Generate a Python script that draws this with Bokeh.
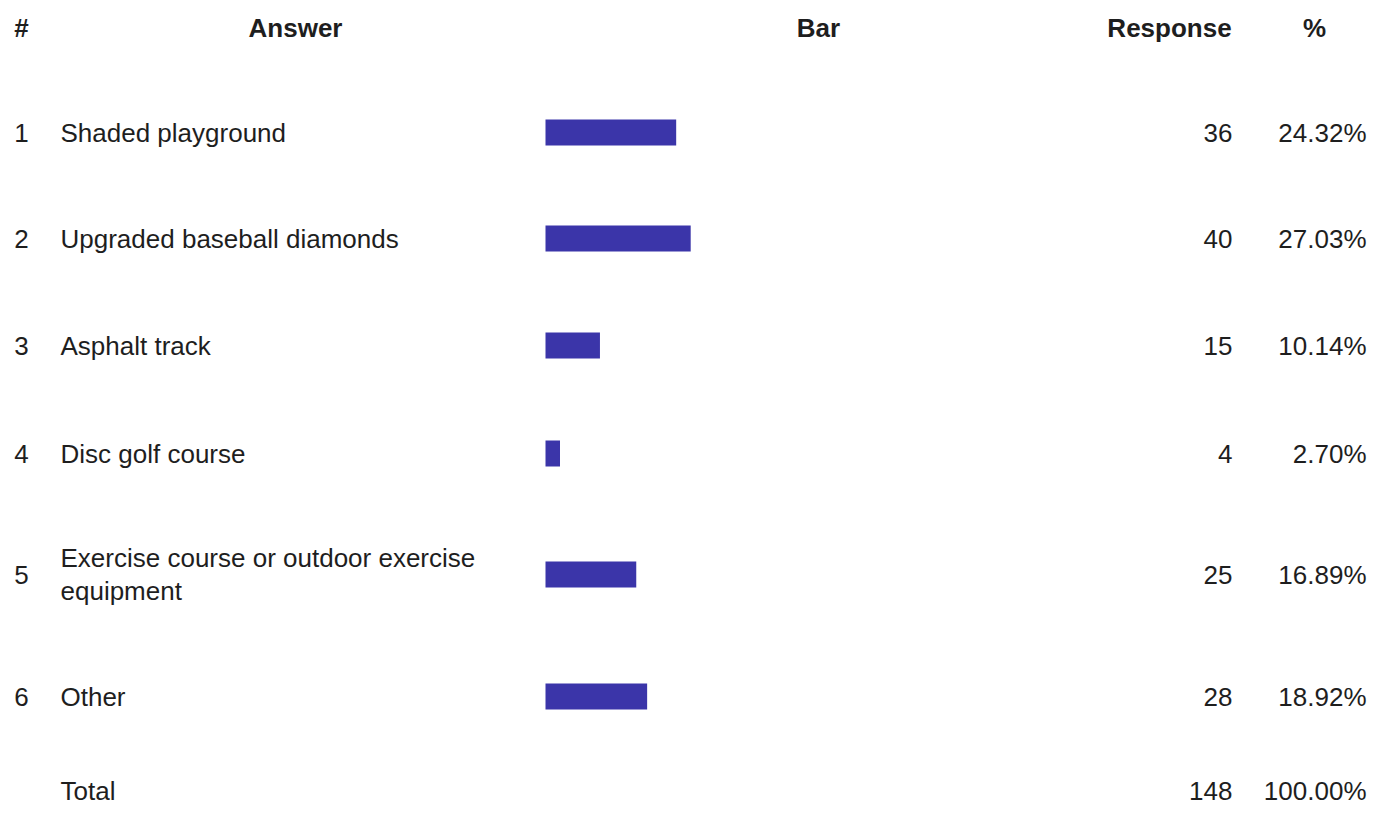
from bokeh.plotting import figure
from bokeh.models import Range1d, ColumnDataSource
from bokeh.core.properties import value
from bokeh.embed import file_html
from bokeh.resources import INLINE

# ---- data ----
numbers = ["1", "2", "3", "4", "5", "6"]
answers = ["Shaded playground", "Upgraded baseball diamonds", "Asphalt track",
           "Disc golf course", "Exercise course or outdoor exercise\nequipment", "Other"]
responses = [36, 40, 15, 4, 25, 28]
percents = ["24.32%", "27.03%", "10.14%", "2.70%", "16.89%", "18.92%"]
total_label = "Total"
total_response = "148"
total_percent = "100.00%"
headers = ["#", "Answer", "Bar", "Response", "%"]

# ---- layout (page pixels) ----
W, H = 1367, 807
row_y = [132, 238, 345, 453, 574, 696]
total_y = 790
header_y = 27
bar_x0 = 545
px_per_unit = 3.63
FONT = "Liberation Sans"
FS = "26px"
TXT = "#1e1e1e"

p = figure(width=W, height=H, output_backend="svg", toolbar_location=None,
           x_range=Range1d(0, W), y_range=Range1d(H, 0),
           min_border=0, outline_line_color=None)
p.axis.visible = False
p.grid.visible = False
p.background_fill_color = "white"

p.extra_x_ranges["bar"] = Range1d((0 - bar_x0) / px_per_unit, (W - bar_x0) / px_per_unit)

src = ColumnDataSource(dict(y=row_y, v=responses, num=numbers, ans=answers, pct=percents,
                            resp=[str(r) for r in responses]))

p.hbar(y="y", left=0, right="v", height=26, source=src, x_range_name="bar",
       fill_color="#3b35a9", line_color=None)

common = dict(text_font=value(FONT), text_font_size=FS, text_color=TXT)

# header
hx = [21, 295, 818, 1169, 1314]
p.text(x=hx, y=[header_y] * 5, text=headers, text_align="center", text_baseline="middle",
       text_font_style="bold", **common)

# rows
p.text(x=21, y="y", text="num", source=src, text_align="center",
       text_baseline="middle", **common)
p.text(x=60, y="y", text="ans", source=src, text_align="left",
       text_baseline="middle", text_line_height=1.13, **common)
p.text(x=1232, y="y", text="resp", source=src, text_align="right",
       text_baseline="middle", **common)
p.text(x=1366, y="y", text="pct", source=src, text_align="right",
       text_baseline="middle", **common)

# total
p.text(x=[60], y=[total_y], text=[total_label], text_align="left", text_baseline="middle", **common)
p.text(x=[1232], y=[total_y], text=[total_response], text_align="right", text_baseline="middle", **common)
p.text(x=[1366], y=[total_y], text=[total_percent], text_align="right", text_baseline="middle", **common)

open("out.html", "w").write(file_html(p, INLINE))
